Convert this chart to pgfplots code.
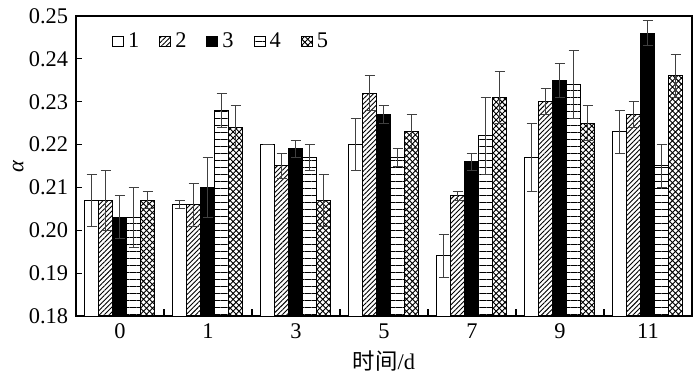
\documentclass[border=0pt]{standalone}
\usepackage{pgfplots}
\pgfplotsset{compat=1.18}
\usepackage{pgfplotstable}
\usetikzlibrary{patterns,patterns.meta}
\usepackage{fontspec}
\setmainfont{Liberation Serif}
\newfontfamily\cjk{Noto Sans CJK SC}

\pgfdeclarepatternformonly{xhatch}{\pgfqpoint{-0.5pt}{-0.5pt}}{\pgfqpoint{3.5pt}{3.5pt}}{\pgfqpoint{3pt}{3pt}}{%
 \pgfsetlinewidth{0.45pt}%
 \pgfpathmoveto{\pgfqpoint{-0.2pt}{-0.2pt}}\pgfpathlineto{\pgfqpoint{3.2pt}{3.2pt}}%
 \pgfpathmoveto{\pgfqpoint{-0.2pt}{3.2pt}}\pgfpathlineto{\pgfqpoint{3.2pt}{-0.2pt}}%
 \pgfusepath{stroke}}

\pgfplotstableread{
x y e
0 0.207 0.006
1 0.206 0.001
2 0.220 0.000
3 0.220 0.006
4 0.194 0.005
5 0.217 0.008
6 0.223 0.005
}\sA
\pgfplotstableread{
x y e
0 0.207 0.007
1 0.206 0.005
2 0.215 0.003
3 0.232 0.004
4 0.208 0.001
5 0.230 0.003
6 0.227 0.003
}\sB
\pgfplotstableread{
x y e
0 0.203 0.005
1 0.210 0.007
2 0.219 0.002
3 0.227 0.002
4 0.216 0.002
5 0.235 0.004
6 0.246 0.003
}\sC
\pgfplotstableread{
x y e
0 0.203 0.007
1 0.228 0.004
2 0.217 0.003
3 0.217 0.002
4 0.222 0.009
5 0.234 0.008
6 0.215 0.005
}\sD
\pgfplotstableread{
x y e
0 0.207 0.002
1 0.224 0.005
2 0.207 0.006
3 0.223 0.004
4 0.231 0.006
5 0.225 0.004
6 0.236 0.005
}\sE

\begin{document}
\fontsize{11.2bp}{13bp}\selectfont
\begin{tikzpicture}
\begin{axis}[
  scale only axis,
  width=308bp, height=150bp,
  xmin=-0.5, xmax=6.5,
  ymin=0.18, ymax=0.25,
  ybar=0pt, bar width=7bp,
  axis line style={line width=0.6bp},
  xtick={0,...,6},
  xticklabels={0,1,3,5,7,9,11},
  major x tick style={draw=none},
  minor xtick={0.5,1.5,...,5.5},
  minor tick length=3.5bp,
  x tick style={line width=0.6bp, black},
  ytick={0.18,0.19,...,0.25},
  y tick style={line width=0.6bp, black},
  major tick length=3bp,
  tick align=inside,
  xtick pos=bottom, ytick pos=left,
  yticklabel style={/pgf/number format/fixed, /pgf/number format/precision=2, /pgf/number format/fixed zerofill},
  /pgf/number format/assume math mode=true,
  tick label style={font=\fontsize{11.2bp}{13bp}\selectfont},
  xlabel={{\cjk 时间}/d},
  ylabel={\textit{α}},
  label style={font=\fontsize{11.2bp}{13bp}\selectfont},
  xlabel style={yshift=2bp},
  ylabel style={yshift=-5bp},
  legend columns=5,
  legend style={at={(rel axis cs:0.058,0.96)}, anchor=north west, draw=none, fill=none,
    inner sep=0pt, font=\fontsize{11.2bp}{13bp}\selectfont,
    /tikz/every even column/.append style={column sep=8bp}},
  legend image code/.code={\draw[#1, line width=0.5bp] (0bp,-2.7bp) rectangle (5.5bp,2.7bp);},
  error bars/y dir=both, error bars/y explicit,
  error bars/error bar style={line width=0.5bp, black!75},
  error bars/error mark options={rotate=90, mark size=2.7bp, line width=0.5bp, black!75},
  every axis plot/.append style={draw=black, line width=0.5bp},
]
\addplot[fill=white] table[x=x,y=y,y error=e]{\sA};
\addplot[pattern={Lines[angle=45,distance=1.7bp,line width=0.45bp]}] table[x=x,y=y,y error=e]{\sB};
\addplot[fill=black] table[x=x,y=y,y error=e]{\sC};
\addplot[pattern={Lines[angle=0,distance=3.5bp,line width=0.5bp]}] table[x=x,y=y,y error=e]{\sD};
\addplot[pattern=xhatch] table[x=x,y=y,y error=e]{\sE};
\legend{1,2,3,4,5}
\end{axis}
\pgfresetboundingbox
\path (-38bp,-27.5bp) rectangle (312bp,158bp);
\end{tikzpicture}
\end{document}
